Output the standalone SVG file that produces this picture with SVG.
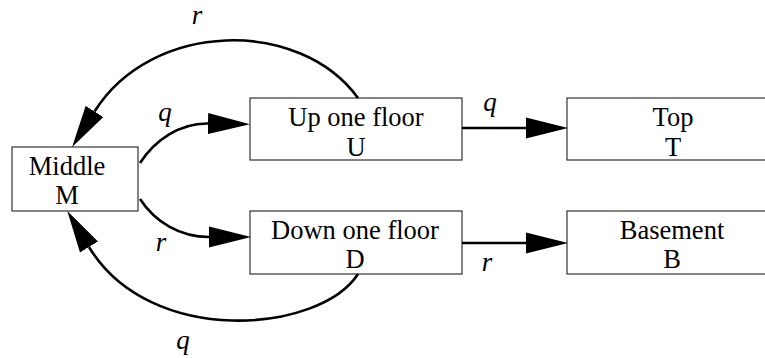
<svg xmlns="http://www.w3.org/2000/svg" width="765" height="358" viewBox="0 0 765 358">
<style>
.box{fill:#fff;stroke:#333;stroke-width:1.2}
.t{font-family:"Liberation Serif","Times New Roman",serif;font-size:26.5px;text-anchor:middle;fill:#000}
.lbl{font-family:"Liberation Serif","Times New Roman",serif;font-size:27px;font-style:italic;text-anchor:middle;fill:#000}
.edge{fill:none;stroke:#000;stroke-width:2.6}
</style>
<defs>
<marker id="ah" markerUnits="userSpaceOnUse" markerWidth="42" markerHeight="22" viewBox="0 0 40 20" refX="0" refY="10" orient="auto">
<path d="M0,0 L40,10 L0,20 z" fill="#000"/>
</marker>
</defs>
<rect width="765" height="358" fill="#fff"/>
<g id="node-M">
<rect class="box" x="12" y="147" width="126" height="64"/>
<text class="t" x="67" y="174.5">Middle</text>
<text class="t" x="67" y="204">M</text>
</g>
<g id="node-U">
<rect class="box" x="250" y="98" width="212" height="62"/>
<text class="t" x="356" y="126">Up one floor</text>
<text class="t" x="356" y="155.5">U</text>
</g>
<g id="node-T">
<rect class="box" x="567" y="98" width="212" height="62"/>
<text class="t" x="673" y="126">Top</text>
<text class="t" x="673" y="155.5">T</text>
</g>
<g id="node-D">
<rect class="box" x="250" y="211" width="212" height="63"/>
<text class="t" x="355" y="238.5">Down one floor</text>
<text class="t" x="355" y="268">D</text>
</g>
<g id="node-B">
<rect class="box" x="567" y="211" width="212" height="63"/>
<text class="t" x="672" y="238.5">Basement</text>
<text class="t" x="672" y="268">B</text>
</g>
<g id="connectors">
<path class="edge" d="M462,128 L526,128" marker-end="url(#ah)"/>
<path class="edge" d="M462,243 L526,243" marker-end="url(#ah)"/>
<path class="edge" d="M140,163 C155,140 180,123 208,123.5" marker-end="url(#ah)"/>
<path class="edge" d="M140,199 C155,222 180,237 209,237" marker-end="url(#ah)"/>
<path class="edge" d="M358,98 C300,18 152,20 94.5,111.5" marker-end="url(#ah)"/>
<path class="edge" d="M358,274 C320,333 150,348 89,247" marker-end="url(#ah)"/>
<text class="lbl" x="197" y="24">r</text>
<text class="lbl" x="165" y="121">q</text>
<text class="lbl" x="161" y="251">r</text>
<text class="lbl" x="183" y="349">q</text>
<text class="lbl" x="490" y="111">q</text>
<text class="lbl" x="487" y="271">r</text>
</g>
</svg>
